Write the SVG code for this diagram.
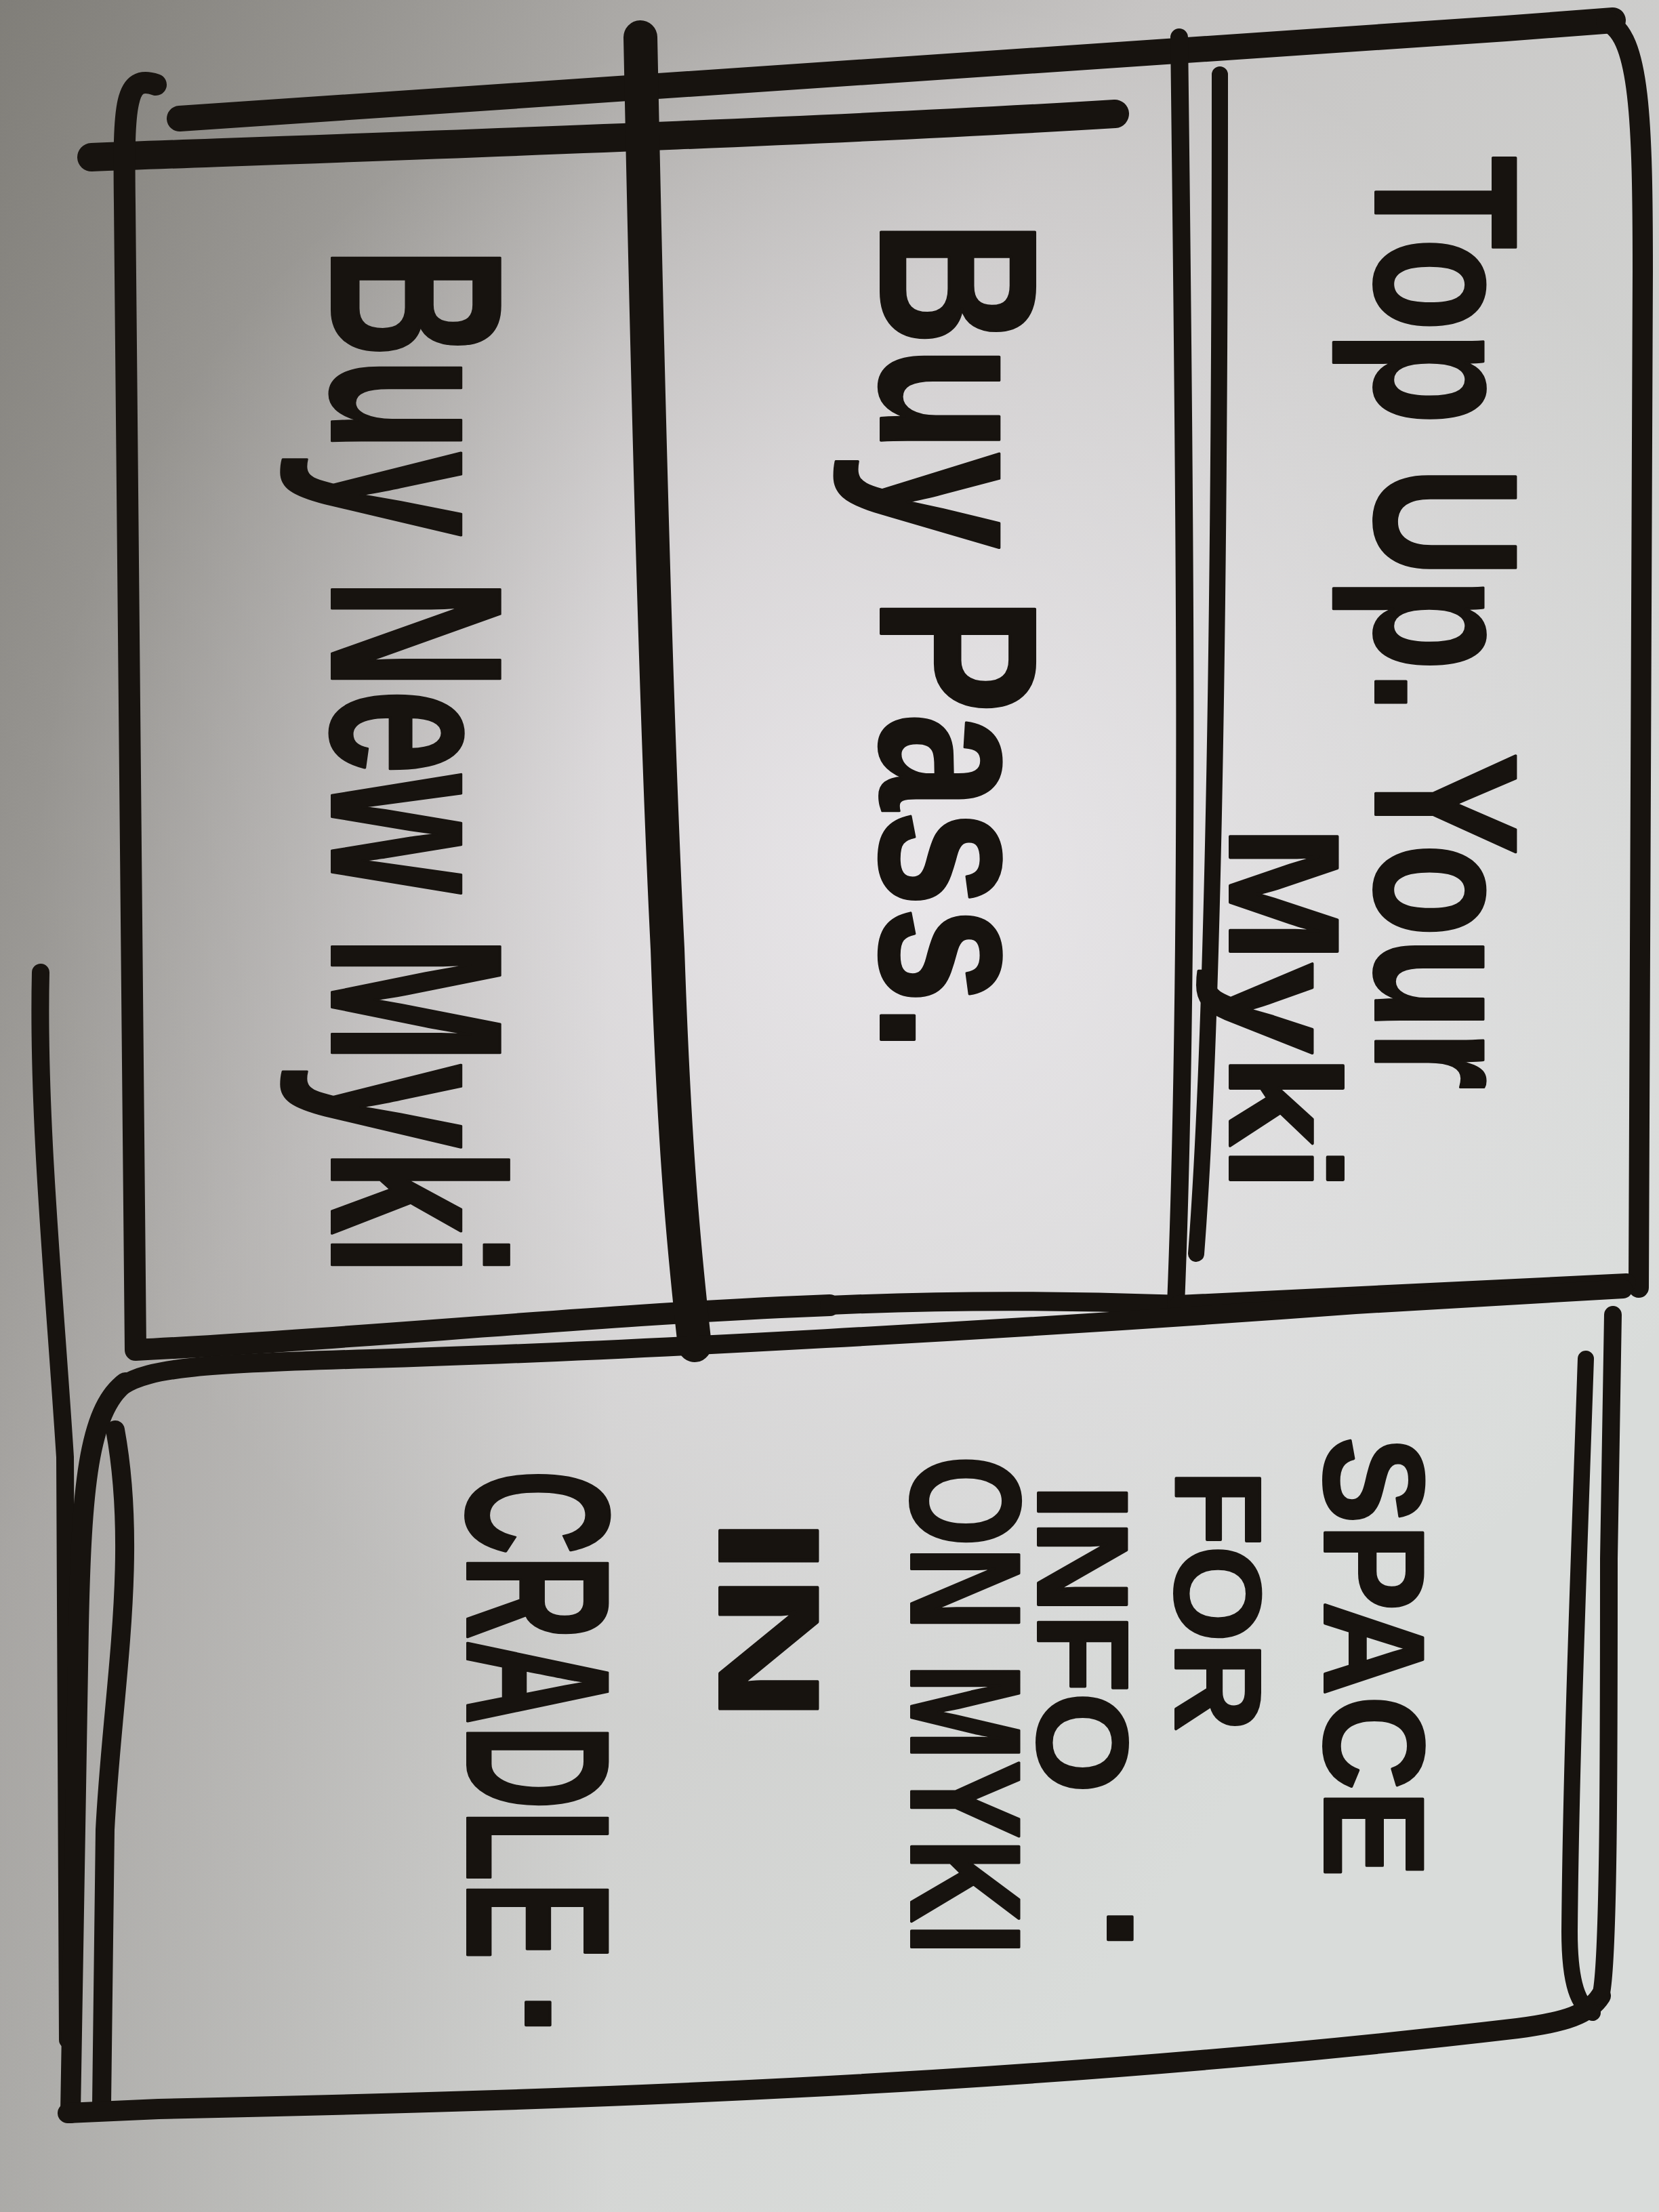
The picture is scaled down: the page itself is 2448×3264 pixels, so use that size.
<svg xmlns="http://www.w3.org/2000/svg" width="2448" height="3264" viewBox="0 0 2448 3264">
  <defs>
    <linearGradient id="bg" x1="0" y1="0" x2="2448" y2="1800" gradientUnits="userSpaceOnUse">
      <stop offset="0" stop-color="#8a8883"/>
      <stop offset="0.45" stop-color="#c6c4c3"/>
      <stop offset="1" stop-color="#d9dcda"/>
    </linearGradient>
    <radialGradient id="glow" cx="1350" cy="1300" r="1300" gradientUnits="userSpaceOnUse">
      <stop offset="0" stop-color="#eeebef" stop-opacity="0.85"/>
      <stop offset="1" stop-color="#eeebef" stop-opacity="0"/>
    </radialGradient>
    <linearGradient id="shadeL" x1="0" y1="0" x2="900" y2="0" gradientUnits="userSpaceOnUse">
      <stop offset="0" stop-color="#6e6c66" stop-opacity="0.35"/>
      <stop offset="1" stop-color="#6e6c66" stop-opacity="0"/>
    </linearGradient>
  </defs>
  <style>
    .ink { fill: none; stroke: #17130f; stroke-linecap: round; stroke-linejoin: round; }
    .t { font-family: "Liberation Sans", Arial, sans-serif; font-weight: bold; fill: #17130f; stroke: #17130f; stroke-width: 4; stroke-linejoin: round; }
  </style>

  <rect x="0" y="0" width="2448" height="3264" fill="url(#bg)"/>
  <rect x="0" y="0" width="2448" height="3264" fill="url(#glow)"/>
  <rect x="0" y="0" width="2448" height="3264" fill="url(#shadeL)"/>

  <!-- frame strokes -->
  <g id="frame">
    <path class="ink" stroke-width="38" d="M265,175 C800,140 1600,90 2380,30"/>
    <path class="ink" stroke-width="42" d="M135,232 C600,215 1200,195 1645,168"/>
    <path class="ink" stroke-width="30" d="M2370,32 C2420,50 2424,180 2424,400 L2418,1900"/>
    <path class="ink" stroke-width="26" d="M60,1435 C55,1650 80,1900 96,2150 L100,3010"/>
  </g>

  <g id="node-buy-new-myki">
    <path class="ink" stroke-width="32" d="M230,125 C185,110 182,150 184,300 L200,1992 C500,1978 900,1938 1224,1926"/>
    <path class="ink" stroke-width="50" d="M945,55 C950,300 965,1000 985,1400 C995,1700 1010,1850 1025,1985"/>
    <text class="t" font-size="360" textLength="1518" lengthAdjust="spacingAndGlyphs" transform="translate(490,365) rotate(90)">Buy New Myki</text>
  </g>

  <g id="node-buy-pass">
    <path class="ink" stroke-width="28" d="M1224,1926 C1500,1914 1700,1924 1740,1925"/>
    <path class="ink" stroke-width="26" d="M1740,55 C1748,700 1756,1400 1735,1925"/>
    <text class="t" font-size="330" textLength="1227" lengthAdjust="spacingAndGlyphs" transform="translate(1300,325) rotate(90)">Buy Pass.</text>
  </g>

  <g id="node-top-up">
    <path class="ink" stroke-width="24" d="M1800,110 C1800,800 1792,1500 1765,1850"/>
    <path class="ink" stroke-width="28" d="M1740,1925 L2400,1893"/>
    <text class="t" font-size="300" textLength="1378" lengthAdjust="spacingAndGlyphs" transform="translate(2030,230) rotate(90)">Top Up. Your</text>
    <text class="t" font-size="230" textLength="540" lengthAdjust="spacingAndGlyphs" transform="translate(1815,1218) rotate(90)">Myki</text>
  </g>

  <g id="node-info-space">
    <path class="ink" stroke-width="28" d="M180,2045 C220,2018 300,2012 546,2005 C900,1995 1500,1962 2000,1925 L2395,1902"/>
    <path class="ink" stroke-width="30" d="M185,2040 C130,2080 120,2200 116,2400 L104,3118"/>
    <path class="ink" stroke-width="28" d="M170,2110 C205,2300 165,2500 155,2700 L150,3105"/>
    <path class="ink" stroke-width="30" d="M100,3118 L234,3112 C800,3100 1500,3080 2239,2993 C2310,2984 2345,2972 2362,2945"/>
    <path class="ink" stroke-width="26" d="M2362,2945 C2374,2900 2374,2600 2374,2300 L2380,1940"/>
    <path class="ink" stroke-width="24" d="M2340,2005 C2330,2300 2318,2600 2316,2850 C2316,2930 2330,2960 2350,2970"/>
    <text class="t" font-size="210" textLength="650" lengthAdjust="spacingAndGlyphs" transform="translate(1955,2120) rotate(90)">SPACE</text>
    <text class="t" font-size="180" textLength="386" lengthAdjust="spacingAndGlyphs" transform="translate(1735,2169) rotate(90)">FOR</text>
    <text class="t" font-size="190" textLength="456" lengthAdjust="spacingAndGlyphs" transform="translate(1532,2190) rotate(90)">INFO</text>
    <text class="t" font-size="240" transform="translate(1635,2812) rotate(90)">.</text>
    <text class="t" font-size="230" textLength="737" lengthAdjust="spacingAndGlyphs" transform="translate(1345,2148) rotate(90)">ON MYKI</text>
    <text class="t" font-size="210" textLength="302" lengthAdjust="spacingAndGlyphs" transform="translate(1062,2239) rotate(90)">IN</text>
    <text class="t" font-size="300" textLength="723" lengthAdjust="spacingAndGlyphs" transform="translate(690,2169) rotate(90)">CRADLE</text>
    <text class="t" font-size="240" transform="translate(776,2938) rotate(90)">.</text>
  </g>

  <g id="connectors"/>
</svg>
